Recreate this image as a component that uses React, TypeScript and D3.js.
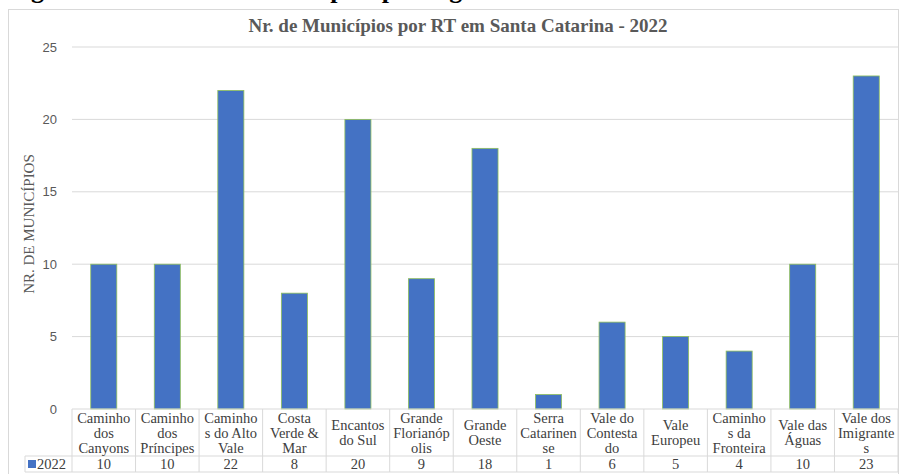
import React from "react";
import * as d3 from "d3";

const categories = [
  "Caminho dos Canyons",
  "Caminho dos Príncipes",
  "Caminhos do Alto Vale",
  "Costa Verde & Mar",
  "Encantos do Sul",
  "Grande Florianópolis",
  "Grande Oeste",
  "Serra Catarinense",
  "Vale do Contestado",
  "Vale Europeu",
  "Caminhos da Fronteira",
  "Vale das Águas",
  "Vale dos Imigrantes",
];

const categoryLabelLines = [
  ["Caminho", "dos", "Canyons"],
  ["Caminho", "dos", "Príncipes"],
  ["Caminho", "s do Alto", "Vale"],
  ["Costa", "Verde &", "Mar"],
  ["Encantos", "do Sul"],
  ["Grande", "Florianóp", "olis"],
  ["Grande", "Oeste"],
  ["Serra", "Catarinen", "se"],
  ["Vale do", "Contesta", "do"],
  ["Vale", "Europeu"],
  ["Caminho", "s da", "Fronteira"],
  ["Vale das", "Águas"],
  ["Vale dos", "Imigrante", "s"],
];

const values2022 = [10, 10, 22, 8, 20, 9, 18, 1, 6, 5, 4, 10, 23];
const seriesName = "2022";
const yTicks = [0, 5, 10, 15, 20, 25];
const title = "Nr. de Municípios por RT em Santa Catarina - 2022";
const yAxisTitle = "NR. DE MUNICÍPIOS";
const caption = "Figura 1 - Número de municípios por região turística";

const W = 901;
const H = 474;
const SERIF = "'Liberation Serif', 'Times New Roman', serif";
const SANS = "'Liberation Sans', Arial, sans-serif";

export default function App() {
  const x = d3.scaleBand<string>().domain(categories).range([72, 898]).padding(0);
  const y = d3.scaleLinear().domain([0, 25]).range([409, 47]);
  const bw = x.bandwidth() * 0.41;
  const tableTop = y(0);
  const valueRowTop = 456;
  const tableBottom = 472;
  const lineH = 15;

  return (
    <svg
      width={W}
      height={H}
      style={{ position: "absolute", left: 0, top: 0, background: "#fff" }}
    >
      <text x={8} y={-2} fontFamily={SERIF} fontWeight="bold" fontSize={26} fill="#000">
        {caption}
      </text>
      <rect x={8.5} y={9.5} width={890} height={470} fill="#fff" stroke="#d9d9d9" />
      <text
        x={458}
        y={32}
        textAnchor="middle"
        fontFamily={SERIF}
        fontWeight="bold"
        fontSize={19}
        fill="#595959"
      >
        {title}
      </text>

      {yTicks.map((t) => (
        <g key={t}>
          {t > 0 && (
            <line x1={72} x2={898} y1={y(t)} y2={y(t)} stroke="#d9d9d9" strokeWidth={1} />
          )}
          <text
            x={57}
            y={y(t)}
            dy="0.35em"
            textAnchor="end"
            fontFamily={SANS}
            fontSize={13}
            fill="#595959"
          >
            {t}
          </text>
        </g>
      ))}

      <text
        transform={`translate(34,${224}) rotate(-90)`}
        textAnchor="middle"
        fontFamily={SERIF}
        fontSize={15}
        fill="#595959"
      >
        {yAxisTitle}
      </text>

      {categories.map((c, i) => {
        const cx = (x(c) as number) + x.bandwidth() / 2;
        return (
          <rect
            key={c}
            x={cx - bw / 2}
            y={y(values2022[i])}
            width={bw}
            height={y(0) - y(values2022[i])}
            fill="#4472c4"
            stroke="#8fbf5a"
            strokeWidth={0.8}
          />
        );
      })}

      <line x1={72} x2={898} y1={tableTop} y2={tableTop} stroke="#d9d9d9" />
      <line x1={25} x2={898} y1={valueRowTop} y2={valueRowTop} stroke="#d9d9d9" />
      <line x1={25} x2={898} y1={tableBottom} y2={tableBottom} stroke="#d9d9d9" />
      <line x1={25} x2={25} y1={valueRowTop} y2={tableBottom} stroke="#d9d9d9" />
      {categories.map((c) => (
        <line
          key={"v" + c}
          x1={x(c) as number}
          x2={x(c) as number}
          y1={tableTop}
          y2={tableBottom}
          stroke="#d9d9d9"
        />
      ))}
      <line x1={898} x2={898} y1={tableTop} y2={tableBottom} stroke="#d9d9d9" />

      {categories.map((c, i) => {
        const cx = (x(c) as number) + x.bandwidth() / 2;
        const lines = categoryLabelLines[i];
        const mid = (tableTop + valueRowTop) / 2;
        const first = mid - ((lines.length - 1) * lineH) / 2;
        return (
          <g key={"l" + c}>
            {lines.map((ln, j) => (
              <text
                key={j}
                x={cx}
                y={first + j * lineH}
                dy="0.35em"
                textAnchor="middle"
                fontFamily={SERIF}
                fontSize={14.5}
                fill="#404040"
              >
                {ln}
              </text>
            ))}
            <text
              x={cx}
              y={(valueRowTop + tableBottom) / 2}
              dy="0.35em"
              textAnchor="middle"
              fontFamily={SERIF}
              fontSize={14.5}
              fill="#404040"
            >
              {values2022[i]}
            </text>
          </g>
        );
      })}

      <rect x={28} y={460} width={8} height={8} fill="#4472c4" />
      <text
        x={37}
        y={(valueRowTop + tableBottom) / 2}
        dy="0.35em"
        fontFamily={SERIF}
        fontSize={14.5}
        fill="#404040"
      >
        {seriesName}
      </text>
    </svg>
  );
}
